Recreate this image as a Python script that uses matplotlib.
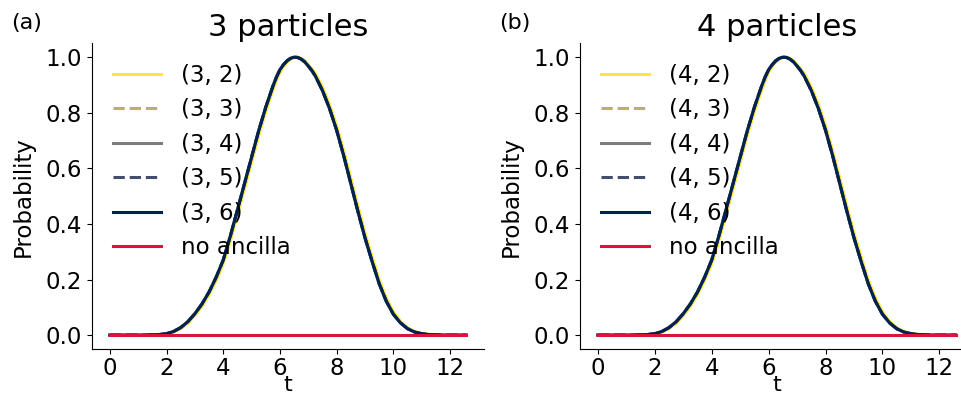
import numpy as np
import matplotlib
matplotlib.use('Agg')
import matplotlib.pyplot as plt

# time grid, 0 .. 4*pi (denser round the peak)
t = [0.0, 0.25, 0.5, 0.75, 1.0, 1.25, 1.5, 1.75, 2.0, 2.25, 2.5, 2.75,
     3.0, 3.25, 3.5, 3.75, 4.0, 4.25, 4.5, 4.75, 5.0, 5.25, 5.5, 5.75,
     5.875, 6.0, 6.125, 6.25, 6.375, 6.5, 6.625, 6.75, 6.875, 7.0, 7.125,
     7.25, 7.5, 7.75, 8.0, 8.25, 8.5, 8.75, 9.0, 9.25, 9.5, 9.75, 10.0,
     10.25, 10.5, 10.75, 11.0, 11.25, 11.5, 11.75, 12.0, 12.25, 12.57]

# (n, 2) curve lags a little behind the others
prob_k2 = [0, 0, 0, 0, 0, 0, 0.001, 0.002, 0.004, 0.010, 0.023, 0.042,
           0.070, 0.103, 0.145, 0.196, 0.256, 0.338, 0.431, 0.526, 0.621,
           0.717, 0.804, 0.880, 0.915, 0.945, 0.966, 0.982, 0.993, 0.999,
           1.000, 0.996, 0.987, 0.973, 0.957, 0.942, 0.893, 0.830, 0.754,
           0.663, 0.565, 0.465, 0.367, 0.282, 0.200, 0.134, 0.084, 0.050,
           0.027, 0.013, 0.006, 0.003, 0.001, 0, 0, 0, 0]

# (n, 3) .. (n, 6) sit on top of each other
prob_k3to6 = [0, 0, 0, 0, 0, 0, 0.001, 0.002, 0.005, 0.013, 0.027, 0.048,
              0.077, 0.112, 0.155, 0.208, 0.270, 0.356, 0.450, 0.545, 0.640,
              0.735, 0.820, 0.895, 0.928, 0.955, 0.973, 0.987, 0.996, 1.000,
              0.999, 0.993, 0.983, 0.968, 0.952, 0.932, 0.880, 0.815, 0.737,
              0.645, 0.545, 0.445, 0.350, 0.265, 0.185, 0.122, 0.075, 0.044,
              0.023, 0.011, 0.005, 0.002, 0.001, 0, 0, 0, 0]

prob_no_ancilla = [0.0] * len(t)

ancillas = [2, 3, 4, 5, 6]
particles = [3, 4]
panel_tags = ['(a)', '(b)']
styles = ['-', '--', '-', '--', '-']
colors = plt.cm.cividis(np.linspace(1, 0, len(ancillas)))

fig = plt.figure(figsize=(9.61, 3.96), dpi=100)
ax_pos = [[0.0957, 0.1187, 0.408, 0.772], [0.6035, 0.1187, 0.4095, 0.772]]

for p, n in enumerate(particles):
    ax = fig.add_axes(ax_pos[p])
    for i, k in enumerate(ancillas):
        y = prob_k2 if k == 2 else prob_k3to6
        ax.plot(t, y, linestyle=styles[i], color=colors[i], lw=2.2,
                label='({}, {})'.format(n, k))
    ax.plot(t, prob_no_ancilla, color='crimson', lw=2.2, label='no ancilla')
    ax.set_title('{} particles'.format(n), fontsize=22, pad=5)
    ax.set_xlabel('t', fontsize=16, labelpad=-4)
    ax.set_ylabel('Probability', fontsize=16.5, labelpad=8)
    ax.set_xticks([0, 2, 4, 6, 8, 10, 12])
    ax.set_yticks([0.0, 0.2, 0.4, 0.6, 0.8, 1.0])
    ax.tick_params(labelsize=16.5)
    ax.tick_params(axis='x', pad=2.5)
    ax.spines['top'].set_visible(False)
    ax.spines['right'].set_visible(False)
    ax.legend(loc='upper left', frameon=False, fontsize=16.5,
              handlelength=2.1, handletextpad=0.9, labelspacing=0.5,
              borderaxespad=0.5)
    fig.text(ax_pos[p][0] - 0.084, 0.943, panel_tags[p], fontsize=16,
             va='center')

plt.savefig('out.png', dpi=100)
